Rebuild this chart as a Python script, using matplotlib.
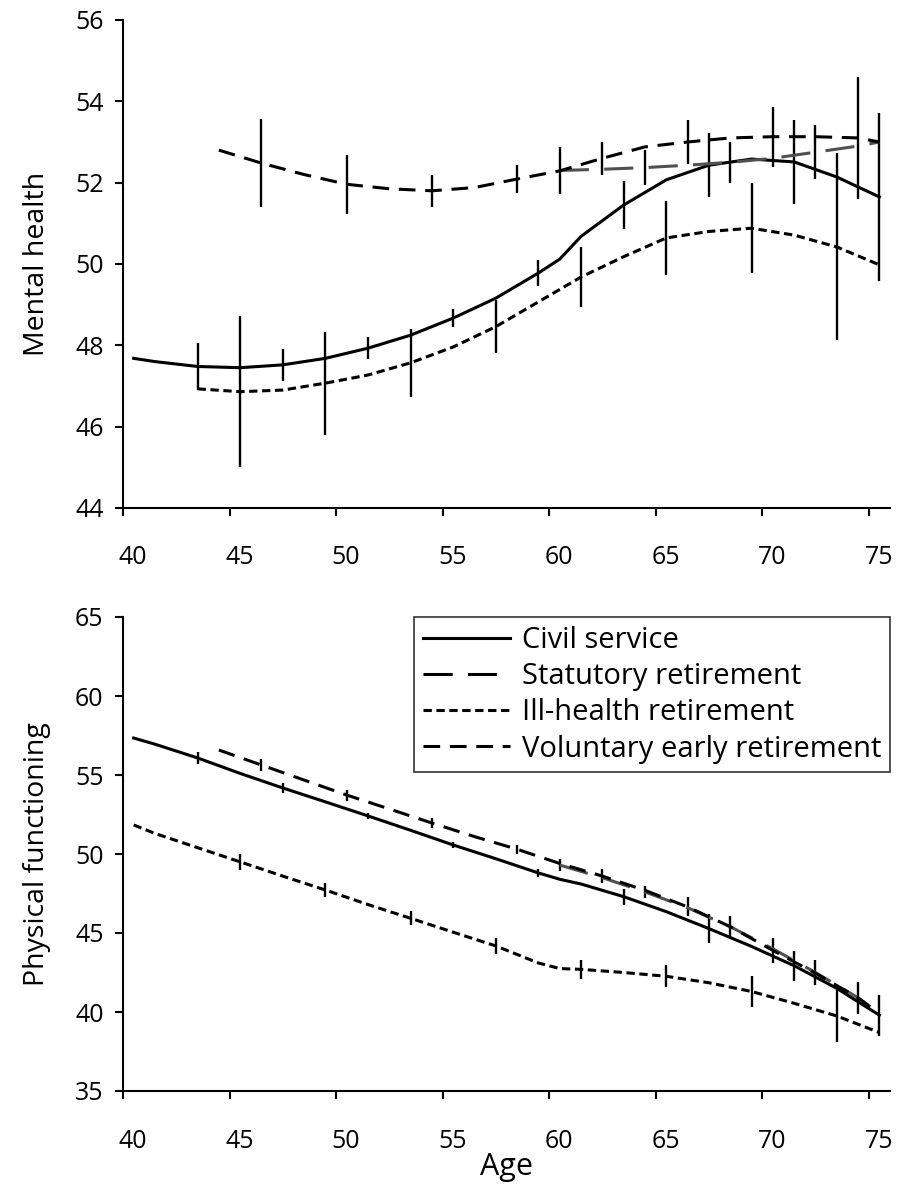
import matplotlib
matplotlib.use("Agg")
import matplotlib.pyplot as plt
from matplotlib.transforms import ScaledTranslation

plt.rcParams['font.family'] = ['Open Sans', 'DejaVu Sans']
plt.rcParams['lines.scale_dashes'] = False

# ---- data ----
# Mental health (top panel)
mh_civil_age = [40.5, 41.5, 43.5, 45.5, 47.5, 49.5, 51.5, 53.5, 55.5, 57.5, 59.5, 60.5,
                61.5, 63.5, 65.5, 67.5, 69.5, 71.5, 73.5, 75.5]
mh_civil = [47.68, 47.6, 47.48, 47.45, 47.52, 47.68, 47.93, 48.25, 48.67, 49.16, 49.78, 50.12,
            50.68, 51.45, 52.07, 52.43, 52.58, 52.51, 52.14, 51.65]
mh_civil_err_age = [43.5, 47.5, 51.5, 55.5, 59.5, 63.5, 67.5, 71.5, 75.5]
mh_civil_err = [0.58, 0.4, 0.27, 0.22, 0.31, 0.58, 0.78, 1.03, 2.07]

mh_ill_age = [43.5, 45.5, 47.5, 49.5, 51.5, 53.5, 55.5, 57.5, 59.5, 61.5, 63.5, 65.5,
              67.5, 69.5, 71.5, 73.5, 75.5]
mh_ill = [46.93, 46.86, 46.9, 47.07, 47.27, 47.57, 47.96, 48.46, 49.07, 49.68, 50.18, 50.64,
          50.8, 50.88, 50.71, 50.42, 49.98]
mh_ill_err_age = [45.5, 49.5, 53.5, 57.5, 61.5, 65.5, 69.5, 73.5]
mh_ill_err = [1.85, 1.27, 0.83, 0.66, 0.73, 0.9, 1.1, 2.3]

mh_vol_age = [44.5, 46.5, 48.5, 50.5, 52.5, 54.5, 56.5, 58.5, 60.5, 62.5, 64.5, 66.5,
              68.5, 70.5, 72.5, 74.5, 75.5]
mh_vol = [52.8, 52.48, 52.2, 51.96, 51.85, 51.8, 51.88, 52.09, 52.29, 52.6, 52.88, 53.0,
          53.1, 53.13, 53.13, 53.1, 53.0]
mh_vol_err_age = [46.5, 50.5, 54.5, 58.5, 62.5, 66.5, 70.5, 74.5]
mh_vol_err = [1.08, 0.72, 0.4, 0.35, 0.41, 0.53, 0.74, 1.5]

mh_stat_age = [60.5, 62.5, 64.5, 66.5, 68.5, 70.5, 72.5, 74.5, 75.5]
mh_stat = [52.3, 52.33, 52.37, 52.43, 52.5, 52.6, 52.75, 52.9, 53.0]
mh_stat_err_age = [60.5, 64.5, 68.5, 72.5]
mh_stat_err = [0.57, 0.43, 0.5, 0.67]

# Physical functioning (bottom panel)
pf_civil_age = mh_civil_age
pf_civil = [57.34, 56.95, 56.08, 55.1, 54.18, 53.3, 52.41, 51.5, 50.57, 49.7, 48.8, 48.4,
            48.1, 47.3, 46.35, 45.28, 44.15, 42.93, 41.5, 39.8]
pf_civil_err_age = mh_civil_err_age
pf_civil_err = [0.4, 0.3, 0.2, 0.2, 0.25, 0.5, 0.9, 0.95, 1.3]

pf_ill_age = [40.5, 41.5, 43.5, 45.5, 47.5, 49.5, 51.5, 53.5, 55.5, 57.5, 59.5, 60.5,
              61.5, 63.5, 65.5, 67.5, 69.5, 71.5, 73.5, 75.5]
pf_ill = [51.84, 51.3, 50.4, 49.5, 48.6, 47.72, 46.8, 45.93, 45.05, 44.18, 43.1, 42.75,
          42.7, 42.5, 42.26, 41.85, 41.3, 40.55, 39.75, 38.7]
pf_ill_err_age = mh_ill_err_age
pf_ill_err = [0.5, 0.45, 0.45, 0.5, 0.6, 0.7, 1.0, 1.65]

pf_vol_age = mh_vol_age
pf_vol = [56.58, 55.63, 54.68, 53.73, 52.85, 51.96, 51.1, 50.3, 49.4, 48.6, 47.7, 46.65,
          45.4, 43.9, 42.45, 40.9, 39.9]
pf_vol_err_age = mh_vol_err_age
pf_vol_err = [0.4, 0.35, 0.3, 0.3, 0.45, 0.6, 0.8, 1.0]

pf_stat_age = mh_stat_age
pf_stat = [49.3, 48.5, 47.6, 46.6, 45.4, 44.0, 42.5, 40.9, 39.9]
pf_stat_err_age = mh_stat_err_age
pf_stat_err = [0.4, 0.4, 0.7, 0.8]

labels = ['Civil service', 'Statutory retirement', 'Ill-health retirement',
          'Voluntary early retirement']
x_ticks = [40, 45, 50, 55, 60, 65, 70, 75]

# line styles (points)
st_civil = dict(color='black', lw=2.2, ls='-')
st_stat = dict(color='#505050', lw=2.2, ls=(0, (21, 11)))
st_ill = dict(color='black', lw=2.2, ls=(0, (6, 3.3)))
st_vol = dict(color='black', lw=2.2, ls=(0, (12, 7)))


def draw_series(ax, age, val, err_age, err, style, label):
    lookup = dict(zip(age, val))
    centers = [lookup[a] for a in err_age]
    ax.errorbar(err_age, centers, yerr=err, fmt='none', ecolor='black',
                elinewidth=1.7, capsize=0, zorder=2)
    ax.plot(age, val, label=label, zorder=3, **style)


def style_axis(ax):
    for s in ['top', 'right']:
        ax.spines[s].set_visible(False)
    for s in ['left', 'bottom']:
        ax.spines[s].set_linewidth(1.5)
    ax.tick_params(axis='both', direction='out', width=1.5, length=6,
                   labelsize=18, colors='black')
    ax.tick_params(axis='x', pad=21)
    ax.tick_params(axis='y', pad=8)
    ax.set_xlim(40, 76)
    ax.set_xticks(x_ticks)
    off = ScaledTranslation(0.1, 0, fig.dpi_scale_trans)
    for lab in ax.get_xticklabels():
        lab.set_transform(lab.get_transform() + off)


fig = plt.figure(figsize=(8.98, 11.88), dpi=100)
W, H = 898, 1188
ax1 = fig.add_axes([123 / W, 1 - 508 / H, 767 / W, 488 / H])
ax2 = fig.add_axes([123 / W, 1 - 1091 / H, 767 / W, 474 / H])

draw_series(ax1, mh_civil_age, mh_civil, mh_civil_err_age, mh_civil_err, st_civil, labels[0])
draw_series(ax1, mh_stat_age, mh_stat, mh_stat_err_age, mh_stat_err, st_stat, labels[1])
draw_series(ax1, mh_ill_age, mh_ill, mh_ill_err_age, mh_ill_err, st_ill, labels[2])
draw_series(ax1, mh_vol_age, mh_vol, mh_vol_err_age, mh_vol_err, st_vol, labels[3])

draw_series(ax2, pf_civil_age, pf_civil, pf_civil_err_age, pf_civil_err, st_civil, labels[0])
draw_series(ax2, pf_stat_age, pf_stat, pf_stat_err_age, pf_stat_err, st_stat, labels[1])
draw_series(ax2, pf_ill_age, pf_ill, pf_ill_err_age, pf_ill_err, st_ill, labels[2])
draw_series(ax2, pf_vol_age, pf_vol, pf_vol_err_age, pf_vol_err, st_vol, labels[3])

ax1.set_ylim(44, 56)
ax1.set_yticks(range(44, 57, 2))
ax2.set_ylim(35, 65)
ax2.set_yticks(range(35, 66, 5))
style_axis(ax1)
style_axis(ax2)

ax1.set_ylabel('Mental health', fontsize=20.5, labelpad=17)
ax2.set_ylabel('Physical functioning', fontsize=20.5, labelpad=17)
ax2.set_xlabel('Age', fontsize=22, labelpad=-1)

leg = ax2.legend(loc='upper right', bbox_to_anchor=(1.0, 1.0), borderaxespad=0,
                 fontsize=21, frameon=True, fancybox=False, edgecolor='black',
                 handlelength=3.0, handletextpad=0.4, labelspacing=0.25,
                 borderpad=0.3)
leg.get_frame().set_linewidth(1.2)
leg.get_lines()[1].set_color('black')

fig.savefig('out.png', dpi=100)
